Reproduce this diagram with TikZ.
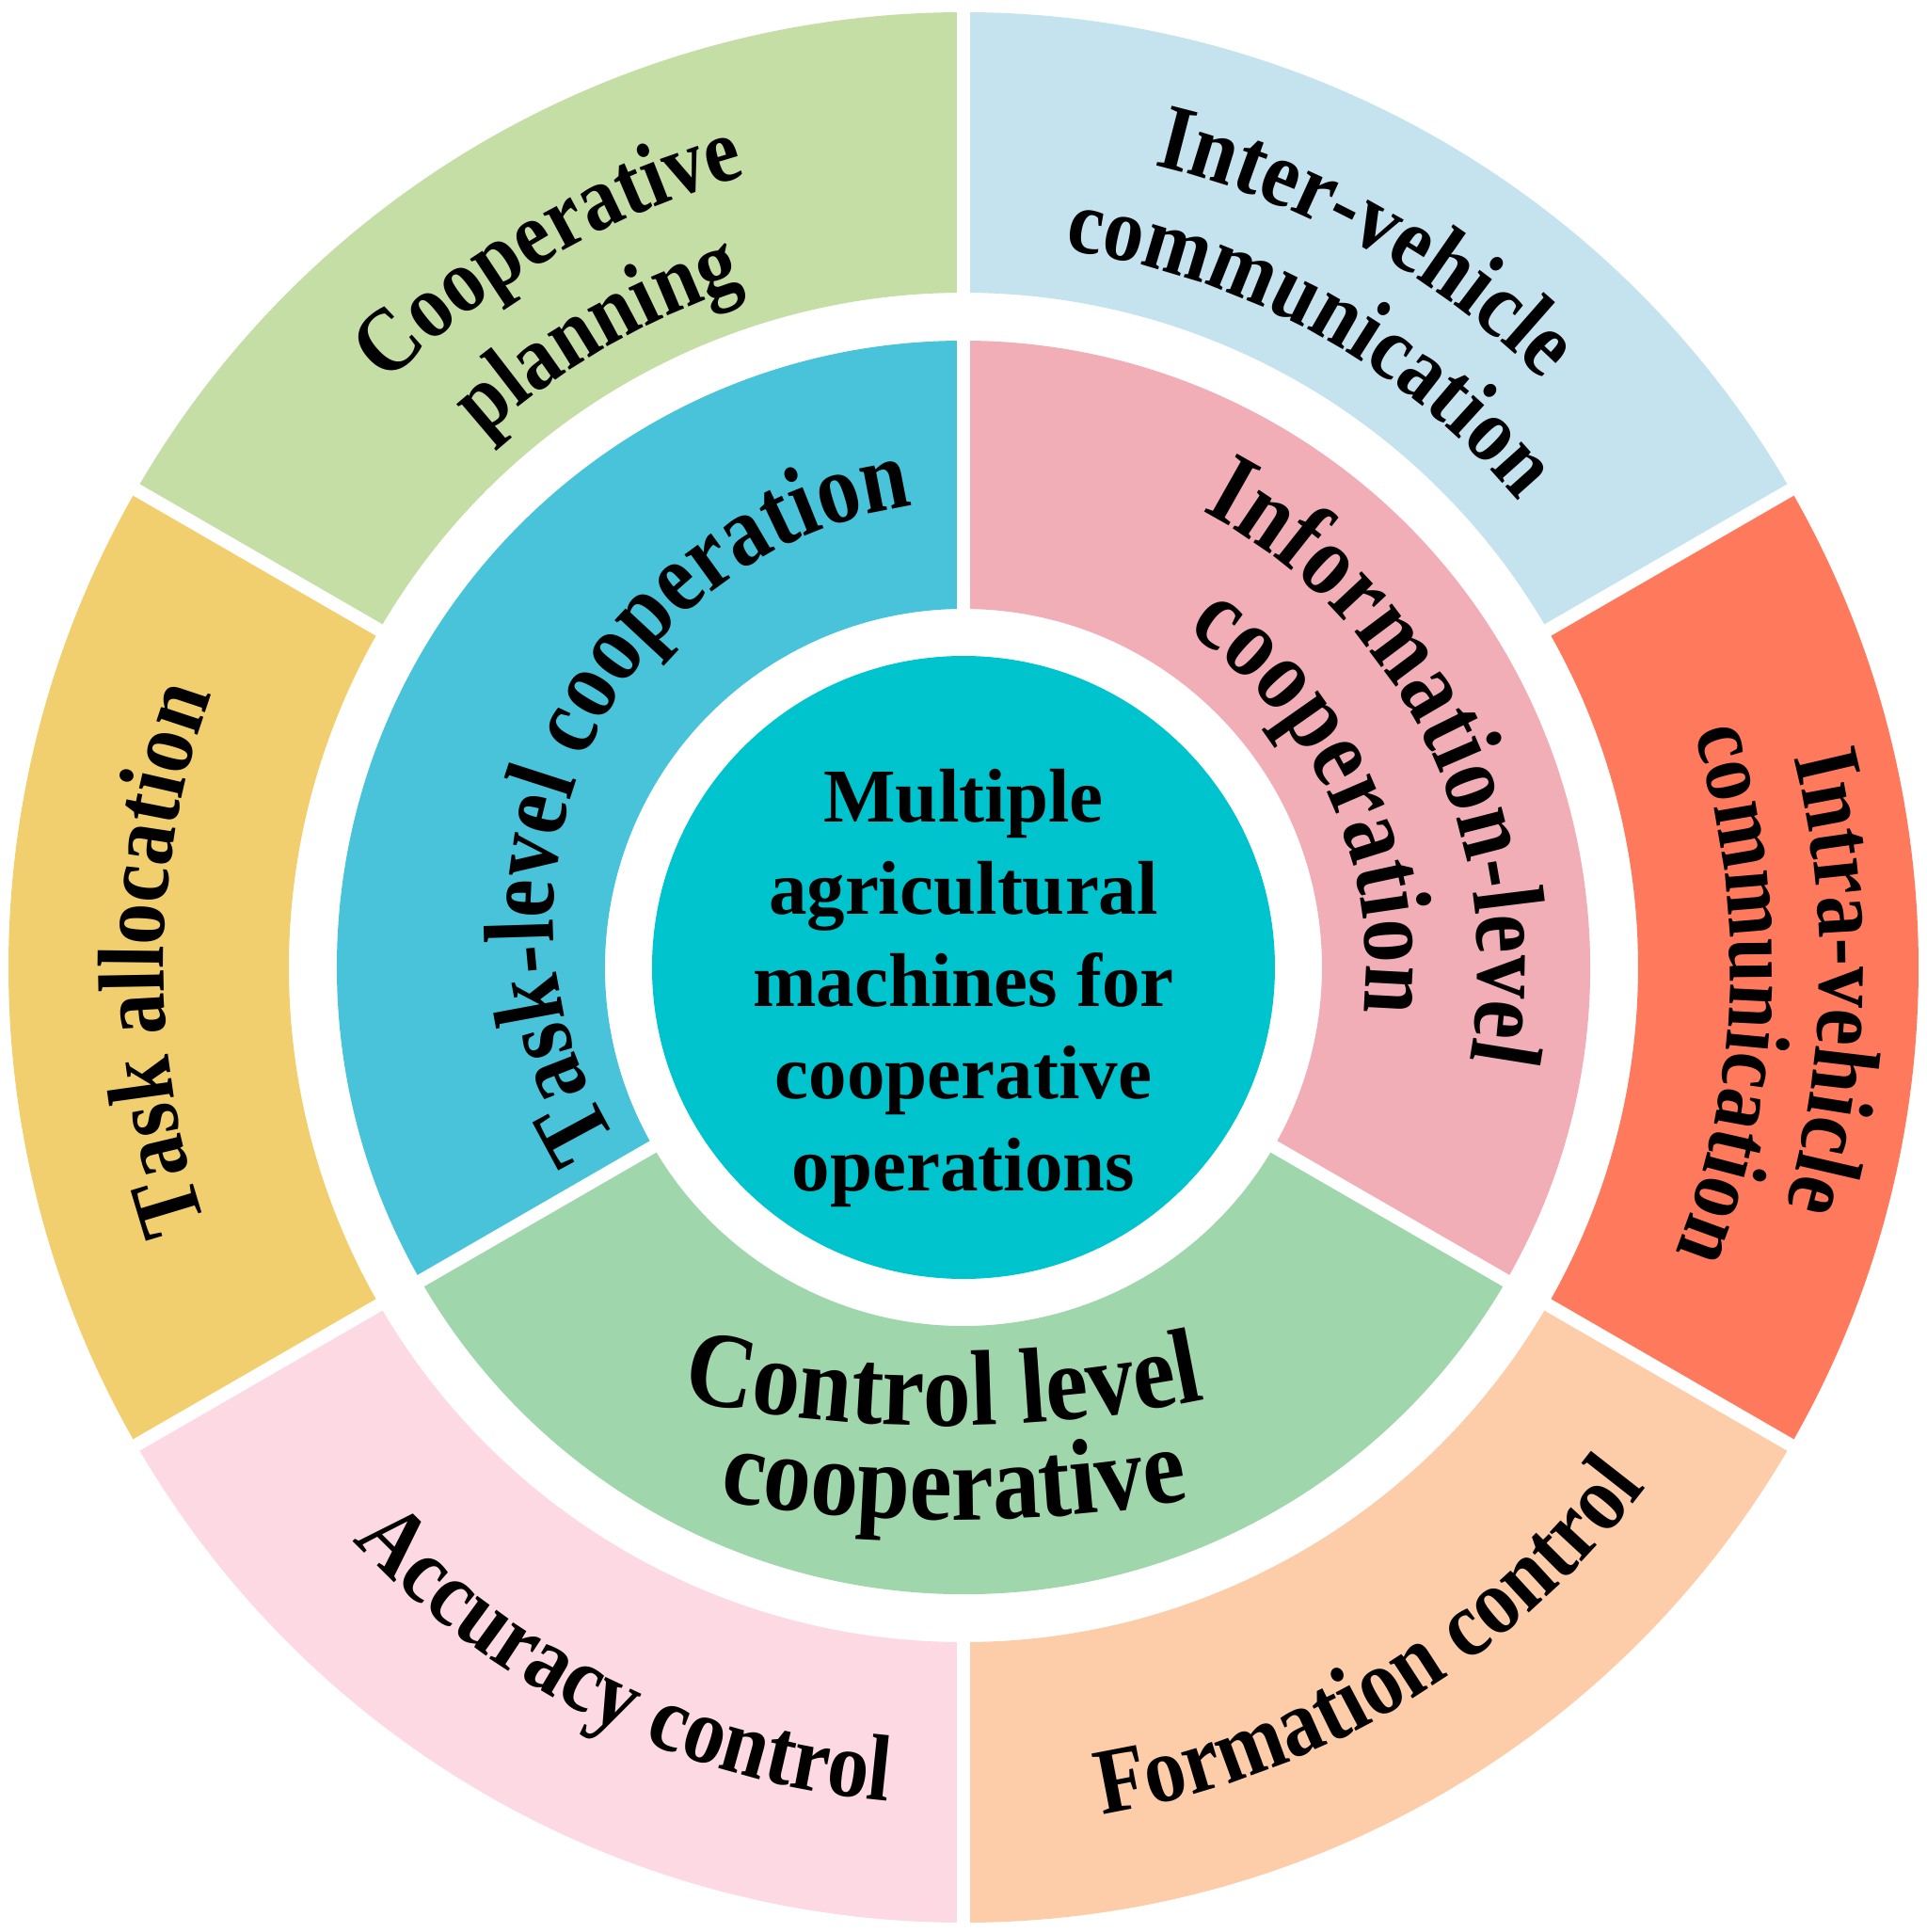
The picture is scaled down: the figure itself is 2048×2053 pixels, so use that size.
\documentclass[tikz,border=0pt]{standalone}
\usepackage{fontspec}
\setmainfont{Liberation Serif}
\newfontfamily\ringface[FakeStretch=0.88]{Liberation Serif}
\newfontfamily\coreface[FakeStretch=0.86]{Liberation Serif}
\newfontfamily\ctrlface[FakeStretch=0.89]{Liberation Serif}
\usetikzlibrary{decorations.text}

\definecolor{planGreen}{HTML}{C4DEA6}
\definecolor{interBlue}{HTML}{C5E3EF}
\definecolor{intraRed}{HTML}{FF7A5C}
\definecolor{formPeach}{HTML}{FDCDAA}
\definecolor{accPink}{HTML}{FDD9E4}
\definecolor{allocYellow}{HTML}{F2CF6E}
\definecolor{taskBlue}{HTML}{48C3DA}
\definecolor{infoPink}{HTML}{F2AEB7}
\definecolor{ctrlGreen}{HTML}{9FD6AB}
\definecolor{hubTeal}{HTML}{00C4CD}

\newcommand{\outerfont}{\ringface\bfseries\fontsize{50}{56}\selectfont}
\newcommand{\outersmall}{\ringface\bfseries\fontsize{48.5}{56}\selectfont}
\newcommand{\midfont}{\ctrlface\bfseries\fontsize{57}{64}\selectfont}
\newcommand{\midsmall}{\coreface\bfseries\fontsize{54}{64}\selectfont}
\newcommand{\taskfont}{\coreface\bfseries\fontsize{53}{64}\selectfont}
\newcommand{\hubfont}{\bfseries\fontsize{40.5}{49}\selectfont}

\tikzset{
  gapline/.style={white, line width=7pt},
  arctext/.style={decorate, decoration={text along path, text align=center, text={#1}}},
}

\begin{document}
\begin{tikzpicture}[x=0.5pt,y=0.5pt]
\useasboundingbox (-1024,-1025) rectangle (1024,1028);

%Outer ring: Cooperative planning
\fill[planGreen] (90:1015) arc[start angle=90, end angle=150, radius=1015] -- (150:717) arc[start angle=150, end angle=90, radius=717] -- cycle;
%Outer ring: Inter-vehicle communication
\fill[interBlue] (30:1015) arc[start angle=30, end angle=90, radius=1015] -- (90:717) arc[start angle=90, end angle=30, radius=717] -- cycle;
%Outer ring: Intra-vehicle communication
\fill[intraRed] (-30:1015) arc[start angle=-30, end angle=30, radius=1015] -- (30:717) arc[start angle=30, end angle=-30, radius=717] -- cycle;
%Outer ring: Formation control
\fill[formPeach] (-90:1015) arc[start angle=-90, end angle=-30, radius=1015] -- (-30:717) arc[start angle=-30, end angle=-90, radius=717] -- cycle;
%Outer ring: Accuracy control
\fill[accPink] (-150:1015) arc[start angle=-150, end angle=-90, radius=1015] -- (-90:717) arc[start angle=-90, end angle=-150, radius=717] -- cycle;
%Outer ring: Task allocation
\fill[allocYellow] (150:1015) arc[start angle=150, end angle=210, radius=1015] -- (210:717) arc[start angle=210, end angle=150, radius=717] -- cycle;

%Middle ring: Task-level
\fill[taskBlue] (90:666) arc[start angle=90, end angle=210, radius=666] -- (210:381) arc[start angle=210, end angle=90, radius=381] -- cycle;
%Middle ring: Information-level
\fill[infoPink] (-30:666) arc[start angle=-30, end angle=90, radius=666] -- (90:381) arc[start angle=90, end angle=-30, radius=381] -- cycle;
%Middle ring: Control level
\fill[ctrlGreen] (210:666) arc[start angle=210, end angle=330, radius=666] -- (330:381) arc[start angle=330, end angle=210, radius=381] -- cycle;

%Hub circle
\fill[hubTeal] (0,0) circle[radius=331];

%White gaps
\draw[gapline] (30:700) -- (30:1030);
\draw[gapline] (90:700) -- (90:1030);
\draw[gapline] (150:700) -- (150:1030);
\draw[gapline] (210:700) -- (210:1030);
\draw[gapline] (270:700) -- (270:1030);
\draw[gapline] (330:700) -- (330:1030);
\draw[gapline] (90:370) -- (90:680);
\draw[gapline] (210:370) -- (210:680);
\draw[gapline] (330:370) -- (330:680);

% Outer labels
\path[arctext={|\outersmall|Cooperative}] (170:872) arc[start angle=170, end angle=70, radius=872];
\path[arctext={|\outersmall|planning}] (170:760) arc[start angle=170, end angle=70, radius=760];
\path[arctext={|\outerfont|Inter-vehicle}] (111:876) arc[start angle=111, end angle=11, radius=876];
\path[arctext={|\outersmall|communication}] (111:770) arc[start angle=111, end angle=11, radius=770];
\path[arctext={|\outerfont|Intra-vehicle}] (49:910) arc[start angle=49, end angle=-51, radius=910];
\path[arctext={|\outersmall|communication}] (48:815) arc[start angle=48, end angle=-52, radius=815];
\path[arctext={|\outerfont|Formation control}] (-109:912) arc[start angle=-109, end angle=-9, radius=912];
\path[arctext={|\outerfont|Accuracy control}] (-166:890) arc[start angle=-166, end angle=-66, radius=890];
\path[arctext={|\outerfont|Task allocation}] (239.4:850) arc[start angle=239.4, end angle=119.4, radius=850];

% Middle labels
\coordinate (taskpivot) at (6,52);
\path[arctext={|\taskfont|Task-level cooperation}, shift={(taskpivot)}] (225:442) arc[start angle=225, end angle=85, radius=442];
\path[arctext={|\midsmall|Information-level}] (86:547) arc[start angle=86, end angle=-34, radius=547];
\path[arctext={|\midsmall|cooperation}] (85:428) arc[start angle=85, end angle=-35, radius=428];
\coordinate (ctrlpivot) at (-21,899);
\coordinate (coopivot) at (-10,899);
\path[arctext={|\midfont|Control level}, shift={(ctrlpivot)}] (255:1386) arc[start angle=255, end angle=285, radius=1386];
\path[arctext={|\midfont|cooperative}, shift={(coopivot)}] (255:1486) arc[start angle=255, end angle=285, radius=1486];

% Hub label
\node[align=center, font=\hubfont, inner sep=0pt] (hub) at (0,-22) {Multiple\\agricultural\\machines for\\cooperative\\operations};

\end{tikzpicture}
\end{document}
